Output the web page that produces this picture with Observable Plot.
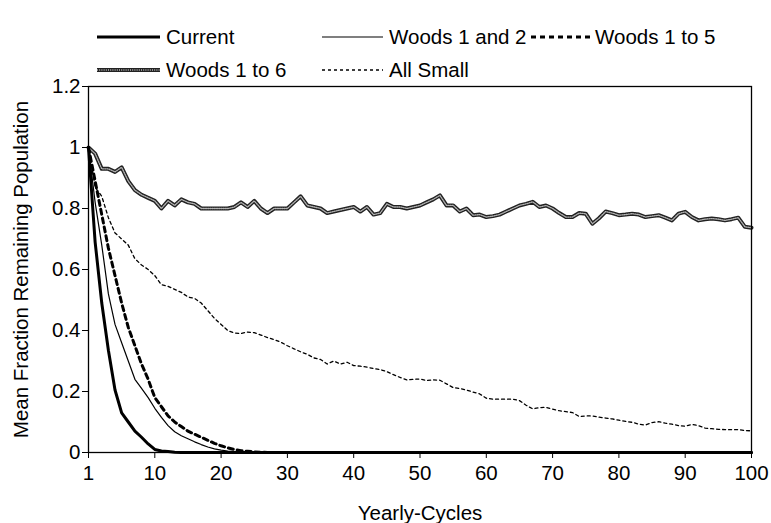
<!DOCTYPE html>
<html><head><meta charset="utf-8">
<script src="https://cdn.jsdelivr.net/npm/d3@7"></script>
<script src="https://cdn.jsdelivr.net/npm/@observablehq/plot@0.6"></script>
<style>
body{margin:0;background:#fff;font-family:"Liberation Sans",Arial,sans-serif;}
#wrap{position:relative;width:771px;height:523px;overflow:hidden;background:#fff;}
#chart{position:absolute;left:0;top:56px;z-index:0;}
#legend{position:absolute;left:0;top:0;z-index:1;}
</style></head><body>
<div id="wrap"><div id="chart"></div><svg id="legend" width="771" height="84"></svg></div>
<script>
// x positions (yearly-cycle index) and tick labels
const xTicks = [0,10,20,30,40,50,60,70,80,90,100];
const xTickLabels = ["1","10","20","30","40","50","60","70","80","90","100"];
const yTicks = [0,0.2,0.4,0.6,0.8,1,1.2];
const yTickLabels = ["0","0.2","0.4","0.6","0.8","1","1.2"];
const seriesNames = ["Current","Woods 1 and 2","Woods 1 to 5","Woods 1 to 6","All Small"];

const current = [1.0,0.69,0.49,0.335,0.205,0.13,0.10,0.07,0.05,0.028,0.01,0.005,0.003,0.001,0,0,0,0,0,0,
0,0,0,0,0,0,0,0,0,0,0,0,0,0,0,0,0,0,0,0,0,0,0,0,0,0,0,0,0,0,0,0,0,0,0,0,0,0,0,0,0,0,0,0,0,0,0,0,0,0,
0,0,0,0,0,0,0,0,0,0,0,0,0,0,0,0,0,0,0,0,0,0,0,0,0,0,0,0,0,0,0];
const woods12 = [1.0,0.82,0.68,0.52,0.42,0.36,0.30,0.24,0.21,0.18,0.145,0.115,0.088,0.068,0.055,0.045,0.035,0.026,0.018,0.012,
0.008,0.005,0.003,0.002,0.001,0,0,0,0,0,0,0,0,0,0,0,0,0,0,0,0,0,0,0,0,0,0,0,0,0,0,0,0,0,0,0,0,0,0,0,0,0,0,0,0,0,0,0,0,0,
0,0,0,0,0,0,0,0,0,0,0,0,0,0,0,0,0,0,0,0,0,0,0,0,0,0,0,0,0,0,0];
const woods15 = [1.0,0.89,0.78,0.67,0.58,0.49,0.41,0.35,0.29,0.24,0.18,0.15,0.12,0.10,0.085,0.07,0.06,0.05,0.04,0.03,
0.022,0.015,0.01,0.006,0.004,0.002,0.001,0,0,0,0,0,0,0,0,0,0,0,0,0,0,0,0,0,0,0,0,0,0,0,0,0,0,0,0,0,0,0,0,0,0,0,0,0,0,0,0,0,0,0,
0,0,0,0,0,0,0,0,0,0,0,0,0,0,0,0,0,0,0,0,0,0,0,0,0,0,0,0,0,0,0];
const woods16 = [1.00,0.98,0.93,0.93,0.92,0.935,0.89,0.86,0.845,0.835,0.825,0.80,0.825,0.81,0.83,0.82,0.815,0.80,0.80,0.80,
0.80,0.80,0.805,0.82,0.805,0.825,0.80,0.785,0.80,0.80,0.80,0.82,0.84,0.81,0.805,0.80,0.785,0.79,0.795,0.80,
0.805,0.79,0.805,0.78,0.785,0.815,0.805,0.805,0.80,0.805,0.81,0.82,0.83,0.843,0.81,0.81,0.79,0.80,0.778,0.78,
0.772,0.775,0.78,0.79,0.80,0.81,0.815,0.822,0.805,0.81,0.80,0.785,0.772,0.772,0.785,0.783,0.75,0.768,0.79,0.785,
0.778,0.78,0.783,0.78,0.772,0.775,0.778,0.77,0.761,0.783,0.789,0.772,0.761,0.765,0.767,0.765,0.761,0.765,0.77,0.74,0.737];
const allSmall = [1.0,0.87,0.84,0.77,0.72,0.70,0.68,0.635,0.615,0.60,0.58,0.55,0.545,0.535,0.525,0.51,0.505,0.49,0.465,0.44,
0.42,0.40,0.392,0.39,0.395,0.393,0.385,0.377,0.37,0.362,0.35,0.34,0.33,0.322,0.31,0.305,0.29,0.30,0.29,0.296,
0.285,0.283,0.28,0.275,0.272,0.265,0.255,0.246,0.238,0.24,0.241,0.236,0.238,0.237,0.225,0.213,0.21,0.205,0.198,0.192,
0.178,0.175,0.175,0.175,0.175,0.17,0.155,0.143,0.147,0.148,0.142,0.137,0.134,0.131,0.118,0.12,0.12,0.116,0.113,0.11,
0.106,0.102,0.099,0.093,0.09,0.098,0.101,0.096,0.093,0.088,0.086,0.092,0.088,0.08,0.078,0.076,0.075,0.075,0.075,0.072,0.071];

const seriesValues = [current, woods12, woods15, woods16, allSmall];

const styles = {
  "Current": [{stroke:"#000", strokeWidth:3}],
  "Woods 1 and 2": [{stroke:"#000", strokeWidth:1.2}],
  "Woods 1 to 5": [{stroke:"#000", strokeWidth:3, strokeDasharray:"5 4"}],
  "Woods 1 to 6": [{stroke:"#222", strokeWidth:4}, {stroke:"#b4b4b4", strokeWidth:1.3, strokeDasharray:"1 1.2"}],
  "All Small": [{stroke:"#000", strokeWidth:1.3, strokeDasharray:"3 3"}]
};

const data = seriesNames.flatMap((name, k) => seriesValues[k].map((v, i) => ({x: i, y: v, s: name})));

const drawOrder = ["All Small","Woods 1 to 6","Woods 1 to 5","Woods 1 and 2","Current"];
const lineMarks = drawOrder.flatMap(name =>
  styles[name].map(st => Plot.line(data.filter(d => d.s === name), {x:"x", y:"y", ...st, strokeLinejoin:"round"}))
);

const FONT = 20.5;
const chart = Plot.plot({
  width: 771, height: 467,
  marginTop: 30, marginBottom: 71, marginLeft: 88, marginRight: 20,
  style: {fontFamily: "'Liberation Sans', Arial, sans-serif", fontSize: FONT + "px", color: "#000", background: "transparent"},
  x: {domain: [0, 100]},
  y: {domain: [0, 1.2]},
  marks: [
    ...lineMarks,
    Plot.frame({stroke: "#000", strokeWidth: 1.3}),
    Plot.axisX({ticks: xTicks, tickFormat: d => xTickLabels[xTicks.indexOf(d)], tickSize: 6, tickPadding: 7,
      label: "Yearly-Cycles", labelAnchor: "center", labelOffset: 67, labelArrow: "none", fontSize: FONT}),
    Plot.axisY({ticks: yTicks, tickFormat: d => yTickLabels[yTicks.indexOf(d)], tickSize: 6, tickPadding: 2,
      label: "Mean Fraction Remaining Population", labelAnchor: "center", labelOffset: 75, labelArrow: "none", fontSize: FONT})
  ]
});
document.getElementById("chart").appendChild(chart);

// legend
const legend = d3.select("#legend");
const items = [
  {name:"Current", x0:97, x1:160, tx:166, y:37},
  {name:"Woods 1 and 2", x0:322, x1:383, tx:389, y:37},
  {name:"Woods 1 to 5", x0:531, x1:590, tx:595, y:37},
  {name:"Woods 1 to 6", x0:97, x1:160, tx:166, y:70},
  {name:"All Small", x0:322, x1:383, tx:389, y:70}
];
for (const it of items) {
  for (const st of styles[it.name]) {
    legend.append("line").attr("x1", it.x0).attr("x2", it.x1).attr("y1", it.y).attr("y2", it.y)
      .attr("stroke", st.stroke).attr("stroke-width", st.strokeWidth)
      .attr("stroke-dasharray", st.strokeDasharray || null);
  }
  legend.append("text").attr("x", it.tx).attr("y", it.y).attr("dy", "0.35em")
    .attr("font-family", "'Liberation Sans', Arial, sans-serif").attr("font-size", FONT).text(it.name);
}
</script>
</body></html>
